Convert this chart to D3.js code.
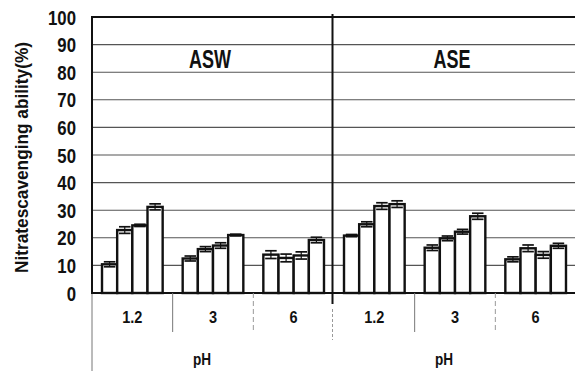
<!DOCTYPE html>
<html><head><meta charset="utf-8">
<script src="https://cdn.jsdelivr.net/npm/d3@7"></script>
<style>
html,body{margin:0;padding:0;background:#fff;}
text{font-family:"Liberation Sans","Arial",sans-serif;font-weight:bold;fill:#111;}
</style></head>
<body><svg id="c" width="575" height="371"></svg>
<script>
const panels = ["ASW", "ASE"];
const categories = ["1.2", "3", "6"];
const series = ["s1", "s2", "s3", "s4"];
const yTicks = [0, 10, 20, 30, 40, 50, 60, 70, 80, 90, 100];
const aswValues = [[10.4, 22.8, 24.5, 31.2], [12.5, 15.9, 17.2, 21.0], [13.9, 12.7, 13.6, 19.2]];
const aswErrors = [[0.9, 1.2, 0.4, 1.1], [0.9, 0.9, 1.0, 0.3], [1.4, 1.4, 1.3, 1.0]];
const aseValues = [[20.8, 24.9, 31.5, 32.2], [16.4, 19.8, 22.2, 27.8], [12.2, 16.2, 13.8, 17.1]];
const aseErrors = [[0.4, 0.9, 1.2, 1.2], [1.0, 0.85, 0.85, 1.1], [0.9, 1.2, 1.2, 0.9]];
const yLabel = "Nitratescavenging ability(%)";
const xLabel = "pH";

const L = 92, R = 575, T = 17, B = 293, MID = 332.5;
const svg = d3.select("#c");
const y = d3.scaleLinear().domain([0, 100]).range([B, T]);
const px = d3.scaleBand().domain(panels).range([L, R + 1]);
const gx = d3.scaleBand().domain(categories).range([0, px.bandwidth()]);
const sx = d3.scaleBand().domain(series).range([0, gx.bandwidth()]).paddingInner(0).paddingOuter(0.66);

// condense text horizontally (narrow-font look)
function condense(sel, k) {
  sel.each(function () {
    const w = this.getComputedTextLength();
    d3.select(this).attr("textLength", w * k).attr("lengthAdjust", "spacingAndGlyphs");
  });
}

// gridlines
svg.append("g").selectAll("line").data(yTicks.filter(t => t > 0 && t < 100)).join("line")
  .attr("x1", L).attr("x2", R).attr("y1", d => y(d)).attr("y2", d => y(d))
  .attr("stroke", "#555").attr("stroke-width", 1.1);
svg.append("line").attr("x1", L).attr("x2", R).attr("y1", y(100)).attr("y2", y(100))
  .attr("stroke", "#111").attr("stroke-width", 2);

// y axis
const yAxis = d3.axisLeft(y).tickValues(yTicks).tickSize(0).tickPadding(16);
const ya = svg.append("g").attr("transform", `translate(${L},0)`).call(yAxis);
ya.select(".domain").remove();
ya.selectAll("text").attr("font-size", 19.5).attr("dy", "0.36em")
  .style("font-family", '"Liberation Sans",sans-serif').style("font-weight", "bold").attr("fill", "#111");
condense(ya.selectAll("text"), 0.86);
svg.append("line").attr("x1", L).attr("x2", L).attr("y1", T - 1).attr("y2", B + 1)
  .attr("stroke", "#111").attr("stroke-width", 2);
svg.append("line").attr("x1", L).attr("x2", L).attr("y1", B).attr("y2", 371)
  .attr("stroke", "#777").attr("stroke-width", 1);

// divider
svg.append("line").attr("x1", MID).attr("x2", MID).attr("y1", T - 3).attr("y2", B + 11)
  .attr("stroke", "#111").attr("stroke-width", 2);
svg.append("line").attr("x1", MID).attr("x2", MID).attr("y1", B + 16).attr("y2", 340)
  .attr("stroke", "#999").attr("stroke-width", 1).attr("stroke-dasharray", "3,2");

// bottom axis
svg.append("line").attr("x1", L - 1).attr("x2", R).attr("y1", B).attr("y2", B)
  .attr("stroke", "#111").attr("stroke-width", 2);

const data = { ASW: [aswValues, aswErrors], ASE: [aseValues, aseErrors] };

panels.forEach(p => {
  const pg = svg.append("g").attr("transform", `translate(${px(p)},0)`);
  const title = pg.append("text").attr("x", px.bandwidth() / 2 - 3).attr("y", 68).attr("text-anchor", "middle")
    .attr("font-size", 25).text(p);
  condense(title, 0.72);
  categories.forEach((c, i) => {
    if (i > 0) {
      pg.append("line").attr("x1", gx(c)).attr("x2", gx(c)).attr("y1", B).attr("y2", 332)
        .attr("stroke", i === 1 ? "#777" : "#999").attr("stroke-width", 1)
        .attr("stroke-dasharray", i === 1 ? null : "5,3");
    }
    const ct = pg.append("text").attr("x", gx(c) + gx.bandwidth() / 2).attr("y", 323).attr("text-anchor", "middle")
      .attr("font-size", 16.5).text(c);
    condense(ct, 0.88);
  });
  const xl = pg.append("text").attr("x", px.bandwidth() / 2 - 11).attr("y", 365).attr("text-anchor", "middle")
    .attr("font-size", 17).text(xLabel);
  condense(xl, 0.8);

  const [vals, errs] = data[p];
  categories.forEach((c, i) => {
    const g = pg.append("g").attr("transform", `translate(${gx(c)},0)`);
    series.forEach((s, j) => {
      const v = vals[i][j], e = errs[i][j];
      const x0 = sx(s), w = sx.bandwidth();
      g.append("rect").attr("x", x0).attr("y", y(v)).attr("width", w).attr("height", y(0) - y(v))
        .attr("fill", "#fff").attr("stroke", "#111").attr("stroke-width", 2.4);
      const cx = x0 + w / 2, hw = w * 0.38;
      g.append("line").attr("x1", cx).attr("x2", cx).attr("y1", y(v + e)).attr("y2", y(v - e))
        .attr("stroke", "#111").attr("stroke-width", 1.2);
      [v + e, v - e].forEach(t => {
        g.append("line").attr("x1", cx - hw).attr("x2", cx + hw).attr("y1", y(t)).attr("y2", y(t))
          .attr("stroke", "#111").attr("stroke-width", 1.7);
      });
    });
  });
});

svg.append("text").attr("transform", `translate(28,${(42 + 273) / 2}) rotate(-90)`)
  .attr("text-anchor", "middle").attr("font-size", 18)
  .attr("textLength", 231).attr("lengthAdjust", "spacingAndGlyphs").text(yLabel);
</script></body></html>
